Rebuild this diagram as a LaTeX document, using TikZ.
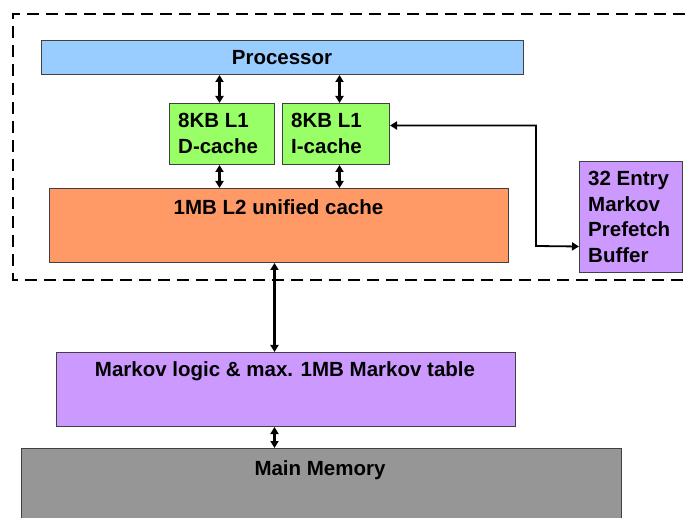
\documentclass[tikz,border=0pt]{standalone}
\usepackage{fontspec}
\setmainfont{Liberation Sans}
\usetikzlibrary{arrows.meta,calc}
\definecolor{procblue}{HTML}{99CCFF}
\definecolor{lgreen}{HTML}{99FF66}
\definecolor{lorange}{HTML}{FF9966}
\definecolor{mpurple}{HTML}{CC99FF}
\definecolor{mgray}{HTML}{969696}
\begin{document}
\begin{tikzpicture}[x=1pt,y=-1pt,
  box/.style={draw=black!75, line width=1pt, inner sep=0pt, anchor=north west},
  lbl/.style={font=\bfseries\fontsize{20.5}{25.5}\selectfont, inner sep=0pt},
  link/.style={{Triangle[length=7pt,width=8pt]}-{Triangle[length=7pt,width=8pt]}, line width=2.2pt}]
\useasboundingbox (0,0) rectangle (685,518);
\clip (0,0) rectangle (685,518);
% frame
\draw[line width=2.8pt, dash pattern=on 12pt off 7pt] (685,14) -- (13,14) -- (13,280) -- (685,280);
% boxes
\node[box, fill=procblue, minimum width=482pt, minimum height=34pt] (proc) at (41,40) {};
\node[box, fill=lgreen, minimum width=105pt, minimum height=61pt] (dc) at (169,103) {};
\node[box, fill=lgreen, minimum width=107pt, minimum height=61pt] (ic) at (282,103) {};
\node[box, fill=lorange, minimum width=459pt, minimum height=74pt] (l2) at (49,188) {};
\node[box, fill=mpurple, minimum width=103pt, minimum height=111pt] (buf) at (579,161) {};
\node[box, fill=mpurple, minimum width=459pt, minimum height=74pt] (mk) at (56,352) {};
\node[box, fill=mgray, minimum width=600pt, minimum height=90pt] (mm) at (21,448) {};
% texts
\node[lbl, anchor=base] (proct) at (282,65) {Processor};
\node[lbl, anchor=north west, align=left] (dct) at (178,113) {8KB L1\\D-cache};
\node[lbl, anchor=north west, align=left] (ict) at (291,113) {8KB L1\\I-cache};
\node[lbl, anchor=base] (l2t) at (278.5,215) {1MB L2 unified cache};
\node[lbl, anchor=north west, align=left] (buft) at (588,171) {32 Entry\\Markov\\Prefetch\\Buffer};
\node[lbl, anchor=base] (mkt) at (285,377) {Markov logic \& max. 1MB Markov table};
\node[lbl, anchor=base] (mmt) at (320,475) {Main Memory};
% connectors
\draw[link] ([xshift=-2.5pt]dc.north) -- ([xshift=-2.5pt]dc.north |- proc.south);
\draw[link] ([xshift=3.5pt]ic.north) -- ([xshift=3.5pt]ic.north |- proc.south);
\draw[link] ([xshift=-2.5pt]dc.south) -- ([xshift=-2.5pt]dc.south |- l2.north);
\draw[link] ([xshift=3.5pt]ic.south) -- ([xshift=3.5pt]ic.south |- l2.north);
\draw[link] ([xshift=-4.5pt]l2.south) -- ([xshift=-4.5pt]l2.south |- mk.north);
\draw[link] ([xshift=-11.5pt]mk.south) -- ([xshift=-11.5pt]mk.south |- mm.north);
\coordinate (bw) at ([yshift=-29.5pt]buf.west);
\coordinate (elb) at (536,246);
\draw[link, line width=1.8pt] ([yshift=8.5pt]ic.east) -| (elb) -- (bw);
\end{tikzpicture}
\end{document}
